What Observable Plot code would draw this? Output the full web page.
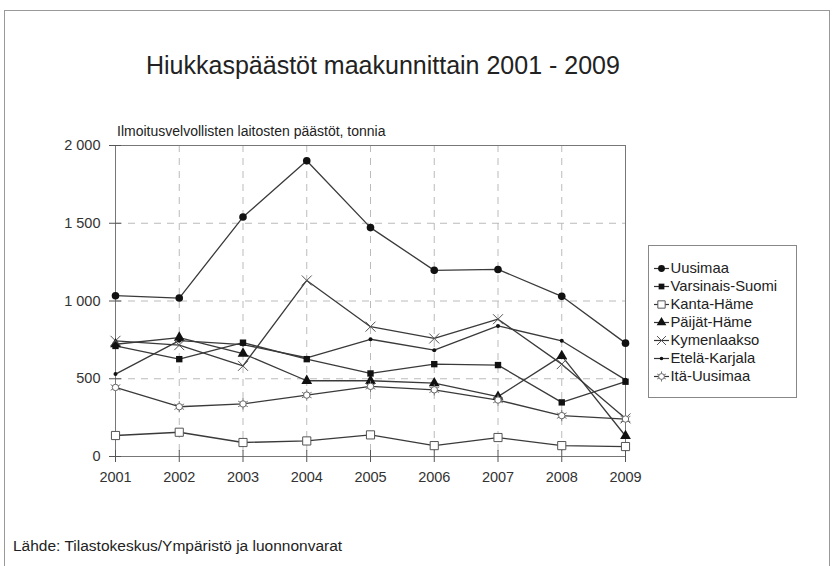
<!DOCTYPE html>
<html>
<head>
<meta charset="utf-8">
<script src="https://cdn.jsdelivr.net/npm/d3@7"></script>
<script src="https://cdn.jsdelivr.net/npm/@observablehq/plot@0.6"></script>
<style>
  html, body { margin: 0; padding: 0; background: #fff; }
  body { width: 832px; height: 566px; position: relative; overflow: hidden; font-family: "Liberation Sans", Arial, sans-serif; color: #222; }
  #frame { position: absolute; left: 4px; top: 10px; width: 824px; height: 600px; border: 1px solid #999; }
  #chart { position: absolute; left: 0; top: 0; }
  #title { position: absolute; left: 146px; top: 51px; font-size: 25px; white-space: nowrap; color: #222; }
  #subtitle { position: absolute; left: 117px; top: 123px; font-size: 14px; white-space: nowrap; color: #222; }
  #caption { position: absolute; left: 13px; top: 537px; font-size: 15.5px; white-space: nowrap; color: #222; }
  #legend { position: absolute; left: 648px; top: 245px; border: 1px solid #888; background: #fff; }
</style>
</head>
<body>
<div id="frame"></div>
<div id="chart"></div>
<div id="title">Hiukkaspäästöt maakunnittain 2001 - 2009</div>
<div id="subtitle">Ilmoitusvelvollisten laitosten päästöt, tonnia</div>
<div id="caption">Lähde: Tilastokeskus/Ympäristö ja luonnonvarat</div>
<div id="legend"></div>
<script>
const years = [2001, 2002, 2003, 2004, 2005, 2006, 2007, 2008, 2009];
const seriesNames = ["Uusimaa", "Varsinais-Suomi", "Kanta-Häme", "Päijät-Häme", "Kymenlaakso", "Etelä-Karjala", "Itä-Uusimaa"];
const uusimaa        = [1034, 1019, 1540, 1902, 1472, 1197, 1203, 1030, 729];
const varsinaisSuomi = [711, 626, 732, 626, 534, 594, 588, 348, 481];
const kantaHame      = [135, 156, 90, 100, 139, 70, 122, 70, 64];
const paijatHame     = [722, 765, 662, 487, 487, 472, 385, 647, 132];
const kymenlaakso    = [744, 716, 583, 1132, 835, 759, 883, 594, 245];
const etelaKarjala   = [530, 745, 720, 635, 754, 684, 840, 744, 493];
const itaUusimaa     = [444, 320, 338, 395, 451, 429, 363, 263, 241];
const yTicks = [0, 500, 1000, 1500, 2000];
const yTickLabels = ["0", "500", "1 000", "1 500", "2 000"];

const seriesValues = [uusimaa, varsinaisSuomi, kantaHame, paijatHame, kymenlaakso, etelaKarjala, itaUusimaa];

// marker styles per series
const markerStyles = {
  "Uusimaa":         [{symbol: "circle", r: 3.8, fill: "#111", stroke: "none"}],
  "Varsinais-Suomi": [{symbol: "square", r: 3.6, fill: "#111", stroke: "none"}],
  "Kanta-Häme":      [{symbol: "square", r: 4.6, fill: "#fff", stroke: "#555"}],
  "Päijät-Häme":     [{symbol: "triangle", r: 4, fill: "#111", stroke: "none"}],
  "Kymenlaakso":     [{symbol: "times", r: 4.6, fill: "none", stroke: "#555"}],
  "Etelä-Karjala":   [{symbol: "circle", r: 2, fill: "#111", stroke: "none"}],
  "Itä-Uusimaa":     [{symbol: "asterisk", r: 5.3, fill: "none", stroke: "#777"},
                      {symbol: "circle", r: 3.2, fill: "#fff", stroke: "#666"}]
};

const rows = seriesNames.flatMap((name, i) =>
  years.map((year, j) => ({series: name, year, value: seriesValues[i][j]})));

const dotMarks = seriesNames.flatMap(name =>
  markerStyles[name].map(st => Plot.dot(rows.filter(d => d.series === name), {
    x: "year", y: "value", symbol: () => st.symbol, r: st.r,
    fill: st.fill, stroke: st.stroke, strokeWidth: 1
  })));

const chart = Plot.plot({
  width: 832,
  height: 566,
  marginLeft: 115,
  marginRight: 207,
  marginTop: 145,
  marginBottom: 110,
  style: {fontFamily: "'Liberation Sans', Arial, sans-serif", fontSize: "14px", color: "#333", background: "transparent"},
  symbol: {type: "identity"},
  x: {domain: [2001, 2009], label: null},
  y: {domain: [0, 2000], label: null},
  marks: [
    Plot.ruleY(yTicks.slice(1, -1), {stroke: "#bbb", strokeDasharray: "7,6", strokeWidth: 1}),
    Plot.ruleX(years.slice(1, -1), {stroke: "#bbb", strokeDasharray: "7,6", strokeWidth: 1}),
    Plot.frame({stroke: "#777"}),
    Plot.axisY(yTicks, {tickFormat: d => yTickLabels[yTicks.indexOf(d)], tickSize: 6, tickPadding: 9, stroke: "#555", fill: "#333", fontSize: 14.5}),
    Plot.axisX(years, {tickFormat: d => String(d), tickSize: 6, tickPadding: 9, stroke: "#555", fill: "#333", fontSize: 14.5}),
    Plot.axisY(yTicks, {tickFormat: () => "", tickSize: -6, stroke: "#555"}),
    Plot.axisX(years, {tickFormat: () => "", tickSize: -6, stroke: "#555"}),
    Plot.line(rows, {x: "year", y: "value", z: "series", stroke: "#3a3a3a", strokeWidth: 1.3}),
    ...dotMarks
  ]
});
document.getElementById("chart").appendChild(chart);

// legend
const legendRows = seriesNames.map(name => ({series: name}));
const legendDots = seriesNames.flatMap(name =>
  markerStyles[name].map(st => Plot.dot(legendRows.filter(d => d.series === name), {
    x: () => 12, y: "series", symbol: () => st.symbol, r: st.r * 0.9,
    fill: st.fill, stroke: st.stroke, strokeWidth: 1
  })));
const legend = Plot.plot({
  width: 147,
  height: 151,
  margin: 0,
  style: {fontFamily: "'Liberation Sans', Arial, sans-serif", fontSize: "14px", background: "transparent"},
  symbol: {type: "identity"},
  x: {domain: [0, 147], range: [0, 147], axis: null},
  y: {type: "point", domain: seriesNames, range: [11, 141], axis: null},
  marks: [
    Plot.ruleY(legendRows, {y: "series", x1: () => 5, x2: () => 20, stroke: "#333", strokeWidth: 1.2}),
    ...legendDots,
    Plot.text(legendRows, {x: () => 21, y: "series", text: "series", textAnchor: "start", fill: "#222", fontSize: 14.8})
  ]
});
document.getElementById("legend").appendChild(legend);
</script>
</body>
</html>
